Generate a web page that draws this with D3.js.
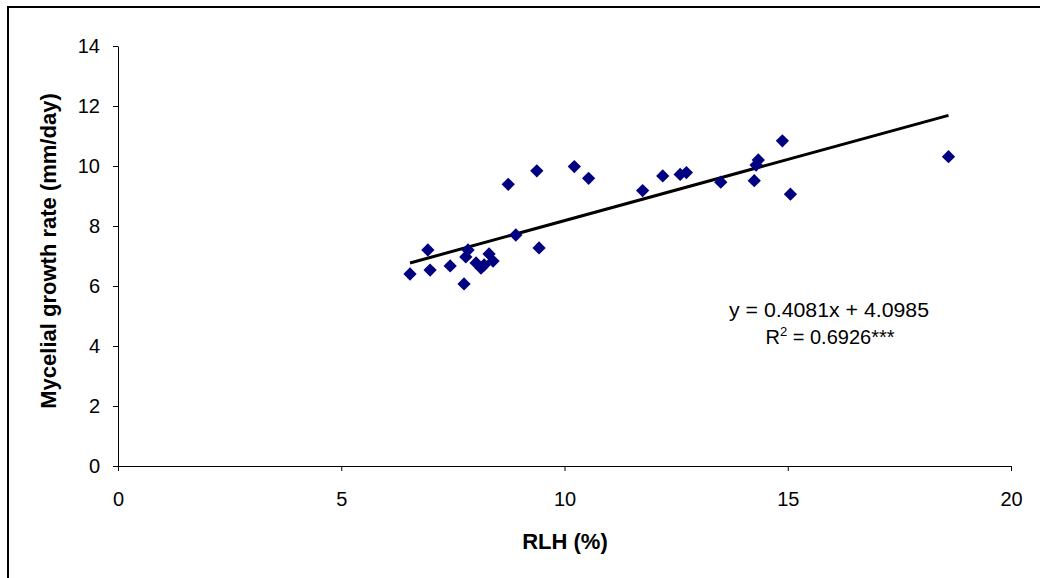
<!DOCTYPE html>
<html><head><meta charset="utf-8">
<script src="https://cdn.jsdelivr.net/npm/d3@7"></script>
<style>body{margin:0;background:#fff;} text{font-family:Arial,"Liberation Sans",sans-serif;}</style>
</head><body>
<svg id="c" width="1040" height="578"></svg>
<script>
const rlh = [6.54,6.94,6.99,7.44,7.75,7.79,7.84,8.02,8.13,8.2,8.31,8.4,8.74,8.91,9.38,9.43,10.22,10.54,11.75,12.2,12.59,12.73,13.5,14.25,14.29,14.34,14.88,15.06,18.6];
const growth = [6.4,7.2,6.53,6.67,6.07,6.97,7.2,6.77,6.6,6.7,7.07,6.83,9.39,7.7,9.84,7.27,9.98,9.59,9.18,9.67,9.72,9.78,9.46,9.51,10.03,10.2,10.84,9.06,10.31];
const xTicks = [0,5,10,15,20];
const yTicks = [0,2,4,6,8,10,12,14];
const slope = 0.4081, intercept = 4.0985;
const eqLine1 = "y = 0.4081x + 4.0985";
const eqLine2 = ["R", "2", " = 0.6926***"];

const svg = d3.select("#c");
svg.append("rect").attr("x",8).attr("y",7).attr("width",1100).attr("height",700)
  .attr("fill","none").attr("stroke","#000").attr("stroke-width",2);

const x = d3.scaleLinear().domain([0,20]).range([118,1011]);
const y = d3.scaleLinear().domain([0,14]).range([466,46]);

const xa = svg.append("g").attr("transform","translate(0,466)")
  .call(d3.axisBottom(x).tickValues(xTicks).tickSize(5).tickPadding(21).tickSizeOuter(0));
const ya = svg.append("g").attr("transform","translate(118,0)")
  .call(d3.axisLeft(y).tickValues(yTicks).tickSize(5).tickPadding(13).tickSizeOuter(0));
[xa,ya].forEach(a=>{
  a.selectAll("text").attr("font-size",20).attr("fill","#000").style("font-family","Arial, 'Liberation Sans', sans-serif");
  a.selectAll("line").attr("stroke","#000");
  a.select(".domain").attr("stroke","#000");
});

// trend line
const x0 = d3.min(rlh), x1 = d3.max(rlh);
svg.append("line").attr("x1",x(x0)).attr("y1",y(slope*x0+intercept))
  .attr("x2",x(x1)).attr("y2",y(slope*x1+intercept))
  .attr("stroke","#000").attr("stroke-width",3);

// points
const pts = rlh.map((v,i)=>({x:v,y:growth[i]}));
svg.append("g").selectAll("path").data(pts).join("path")
  .attr("d",d3.symbol(d3.symbolSquare, 88)())
  .attr("transform",d=>`translate(${x(d.x)},${y(d.y)}) rotate(45)`)
  .attr("fill","#000080");

// equation
svg.append("text").attr("x",829).attr("y",317).attr("text-anchor","middle")
  .attr("font-size",20).attr("textLength",200).attr("lengthAdjust","spacingAndGlyphs").text(eqLine1);
const t2 = svg.append("text").attr("x",830).attr("y",344).attr("text-anchor","middle").attr("font-size",20);
t2.append("tspan").text(eqLine2[0]);
t2.append("tspan").attr("dy",-8).attr("font-size",13).text(eqLine2[1]);
t2.append("tspan").attr("dy",8).text(eqLine2[2]);

// titles
svg.append("text").attr("x",565).attr("y",549).attr("text-anchor","middle")
  .attr("font-size",22).attr("font-weight","bold").text("RLH (%)");
svg.append("text").attr("transform","translate(56,251) rotate(-90)").attr("text-anchor","middle")
  .attr("font-size",22).attr("font-weight","bold").text("Mycelial growth rate (mm/day)");
</script>
</body></html>
